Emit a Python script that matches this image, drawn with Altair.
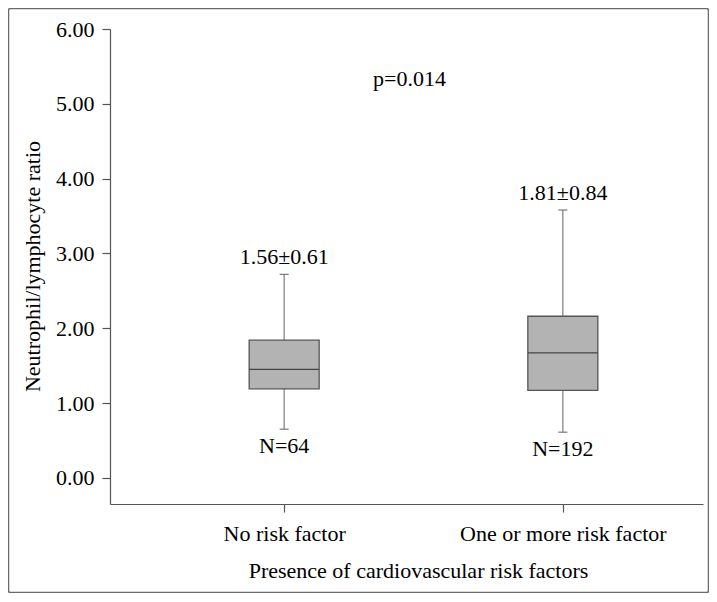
import altair as alt
import pandas as pd

categories = ["No risk factor", "One or more risk factor"]
whisker_low = [0.65, 0.61]
q1 = [1.19, 1.17]
median = [1.45, 1.67]
q3 = [1.84, 2.16]
whisker_high = [2.72, 3.58]
mean_sd = ["1.56\u00b10.61", "1.81\u00b10.84"]
n_labels = ["N=64", "N=192"]
p_value = "p=0.014"
y_ticks = [0, 1, 2, 3, 4, 5, 6]

df = pd.DataFrame({
    "pos": [i + 1 for i in range(len(categories))],
    "category": categories,
    "lo": whisker_low,
    "q1": q1,
    "med": median,
    "q3": q3,
    "hi": whisker_high,
    "meansd": mean_sd,
    "n": n_labels,
})

FONT = "Liberation Serif"
label_expr = " : ".join(
    [f"datum.value == {i + 1} ? '{c}'" for i, c in enumerate(categories)]
) + " : ''"

xscale = alt.Scale(domain=[0.393, 2.485], nice=False, zero=False)
yscale = alt.Scale(domain=[-0.35, 6], nice=False, zero=False)

x_axis = alt.Axis(
    values=[i + 1 for i in range(len(categories))],
    labelExpr=label_expr,
    title="Presence of cardiovascular risk factors",
    grid=False,
    tickSize=8,
    labelPadding=28,
    labelBaseline="alphabetic",
    labelFontSize=22,
    labelLimit=0,
    titleFontSize=22,
    titleFontWeight="normal",
    titleX=308,
    titleY=73,
    titleBaseline="alphabetic",
)
y_axis = alt.Axis(
    values=y_ticks,
    format=".2f",
    title="Neutrophil/lymphocyte ratio",
    grid=False,
    tickSize=8,
    labelPadding=8,
    labelFontSize=22,
    titleFontSize=22,
    titleFontWeight="normal",
    titleAngle=-90,
    titleX=-78,
    titleY=237,
    titleBaseline="middle",
    titleAlign="center",
)

base = alt.Chart(df)

whisker = base.mark_rule(color="#888888", strokeWidth=1.3).encode(
    x=alt.X("pos:Q", scale=xscale, axis=x_axis),
    y=alt.Y("lo:Q", scale=yscale, axis=y_axis),
    y2="hi:Q",
)
box = base.mark_bar(size=70, fill="#b3b3b3", stroke="#555555", strokeWidth=1.3).encode(
    x=alt.X("pos:Q", scale=xscale),
    y=alt.Y("q1:Q", scale=yscale),
    y2="q3:Q",
)
med = base.mark_tick(orient="horizontal", size=70, thickness=1.3, color="#444444", opacity=1).encode(
    x=alt.X("pos:Q", scale=xscale),
    y=alt.Y("med:Q", scale=yscale),
)
cap_hi = base.mark_tick(orient="horizontal", size=9, thickness=1.2, color="#777777", opacity=1).encode(
    x=alt.X("pos:Q", scale=xscale),
    y=alt.Y("hi:Q", scale=yscale),
)
cap_lo = base.mark_tick(orient="horizontal", size=9, thickness=1.2, color="#777777", opacity=1).encode(
    x=alt.X("pos:Q", scale=xscale),
    y=alt.Y("lo:Q", scale=yscale),
)
txt_top = base.mark_text(font=FONT, fontSize=22, color="black", baseline="alphabetic", dy=-10.5).encode(
    x=alt.X("pos:Q", scale=xscale),
    y=alt.Y("hi:Q", scale=yscale),
    text="meansd:N",
)
txt_n = base.mark_text(font=FONT, fontSize=22, color="black", baseline="alphabetic", dy=24).encode(
    x=alt.X("pos:Q", scale=xscale),
    y=alt.Y("lo:Q", scale=yscale),
    text="n:N",
)
p_txt = alt.Chart(alt.Data(values=[{"t": p_value}])).mark_text(
    font=FONT, fontSize=22, color="black", baseline="alphabetic", dx=-14
).encode(
    x=alt.datum(1.5, scale=xscale),
    y=alt.datum(5.24, scale=yscale),
    text="t:N",
)
frame = alt.Chart(alt.Data(values=[{"f": 1}])).mark_rect(
    filled=False, stroke="#6a6a6a", strokeWidth=1.5, clip=False, cornerRadius=2
).encode(
    x=alt.value(-101.5),
    x2=alt.value(598.5),
    y=alt.value(-20.5),
    y2=alt.value(563.5),
)

chart = alt.layer(frame, whisker, box, med, cap_hi, cap_lo, txt_top, txt_n, p_txt).properties(
    width=593,
    height=475,
    autosize=alt.AutoSizeParams(type="none"),
    padding={"left": 102, "top": 21, "right": 6, "bottom": 89},
).configure(
    font=FONT,
).configure_view(
    stroke=None,
).configure_axis(
    domainColor="#555555",
    tickColor="#555555",
    domainWidth=1.2,
    tickWidth=1.2,
    labelColor="black",
    titleColor="black",
    labelFont=FONT,
    titleFont=FONT,
)

chart.save("out.html", embed_options={"renderer": "svg", "actions": False})
